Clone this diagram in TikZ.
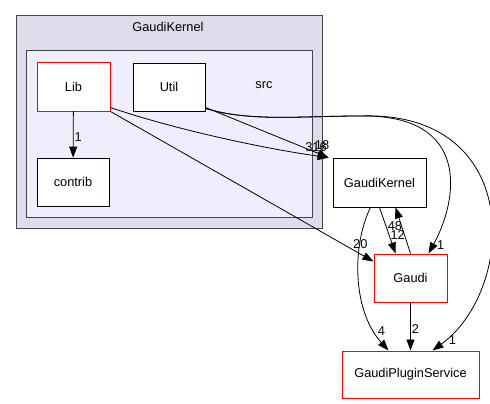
\documentclass[tikz,border=0pt]{standalone}
\usepackage{fontspec}
\setmainfont{Liberation Sans}
\usepackage{tikz}
\usepackage{xcolor}
\usetikzlibrary{positioning, arrows.meta}

\definecolor{outerfill}{HTML}{DDDDEE}
\definecolor{innerfill}{HTML}{EEEEFF}
\definecolor{framegray}{HTML}{444444}

\tikzset{
  dir/.style={rectangle, draw=black, fill=white, line width=0.8pt, minimum width=72pt, minimum height=48pt, font=\fontsize{12.8}{14}\selectfont},
  reddir/.style={dir, draw=red, line width=1pt},
  dep/.style={-{Triangle[length=11pt,width=8pt]}, line width=0.8pt},
  lbl/.style={inner sep=1pt, font=\fontsize{12.8}{14}\selectfont},
}

\begin{document}
\begin{tikzpicture}[x=1pt, y=-1pt]
                \useasboundingbox (0,0) rectangle (490,404);

                % clusters
                \draw[fill=outerfill, draw=framegray, line width=1pt] (16,16) rectangle (322,228);
                \node[lbl] (kttl) at (168,27) {GaudiKernel};
                \draw[fill=innerfill, draw=framegray, line width=1pt] (26,51) rectangle (312,217);
                \node[lbl] (srcttl) at (264,85) {src};

                % directories
                \node[reddir, minimum width=73pt] (lib) at (73.5,87) {Lib};
                \node[dir] (util) at (169,87) {Util};
                \node[dir] (contrib) at (73,182) {contrib};
                \node[dir, minimum width=93pt, minimum height=49pt] (kernel) at (379.5,182.5) {GaudiKernel};
                \node[reddir, minimum width=73pt] (gaudi) at (410.5,278) {Gaudi};
                \node[reddir, minimum width=137pt, minimum height=47pt] (plugin) at (410.5,374.5) {GaudiPluginService};

                % dependencies
                \draw[dep] (lib) -- node[lbl, pos=0.55, right] {1} (contrib);
                \draw[dep] ([yshift=4pt]lib.south east) .. controls (170,128) and (260,148) .. ([xshift=-4pt]kernel.north west);
                \draw[dep] ([yshift=4pt]util.south east) -- ([xshift=-4pt]kernel.north west);
                \node[lbl] (l316) at (316,147) {316};
                \node[lbl] (l18) at (322,145) {18};
                \draw[dep] (lib.south east) -- node[lbl, pos=0.95, above=4pt] {20} ([yshift=-8pt]gaudi.north west);
                \draw[dep] ([yshift=3pt]util.south east) .. controls (250,122) and (300,116) .. (360,116)
                  .. controls (472,114) and (458,200) .. node[lbl, pos=0.95, right=3pt] {1} ([xshift=18pt]gaudi.north);
                \draw[dep] ([yshift=3pt]util.south east) .. controls (250,122) and (300,116) .. (360,116)
                  .. controls (525,110) and (516,290) .. node[lbl, pos=0.95, right=3pt] {1} ([xshift=22pt]plugin.north);
                \draw[dep] (kernel.south) -- node[lbl, pos=0.6, right] {12} ([xshift=-15pt]gaudi.north);
                \draw[dep] (gaudi.north) -- node[lbl, pos=0.6, left=-2pt] {48} ([xshift=16pt]kernel.south);
                \draw[dep] ([xshift=-9pt]kernel.south) .. controls (352,245) and (352,310) .. node[lbl, pos=0.85, right=2pt] {4} ([xshift=-22pt]plugin.north);
                \draw[dep] (gaudi) -- node[lbl, pos=0.55, right] {2} (plugin);
            \end{tikzpicture}
\end{document}
